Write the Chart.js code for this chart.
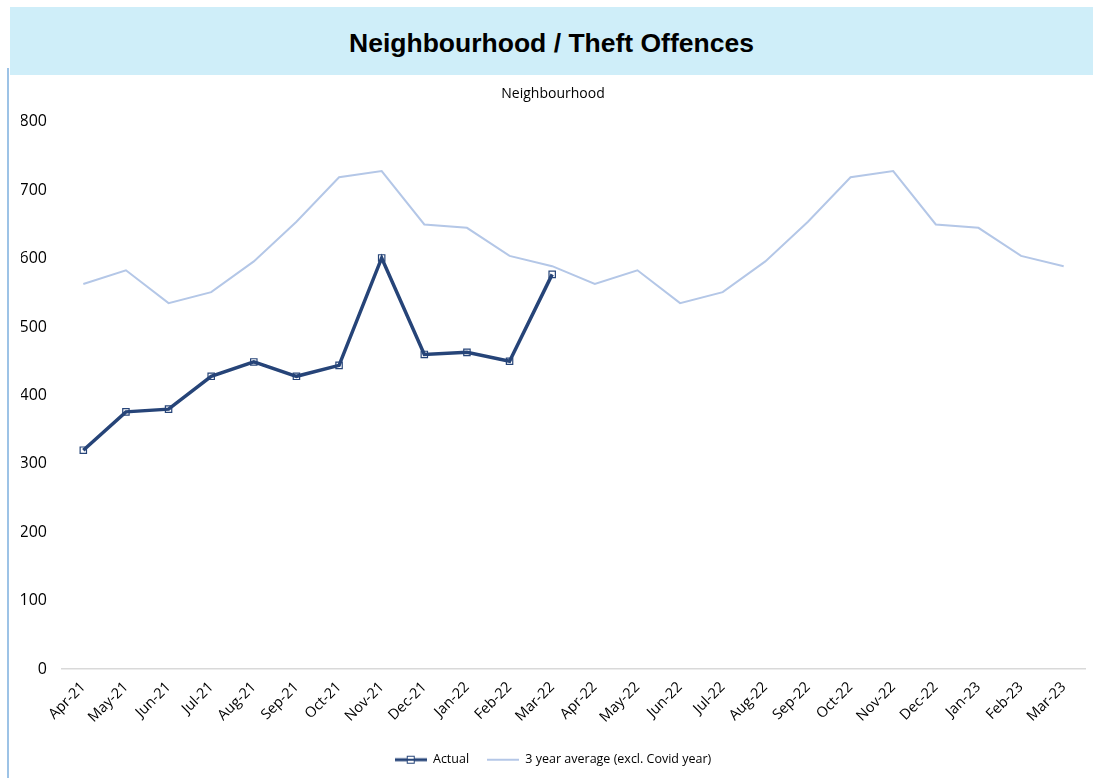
<!DOCTYPE html>
<html>
<head>
<meta charset="utf-8">
<script src="https://cdn.jsdelivr.net/npm/chart.js@4.4.0/dist/chart.umd.min.js"></script>
<style>
    body { margin: 0; background: #fff; width: 1093px; height: 778px; overflow: hidden; position: relative; }
    #band { position: absolute; left: 10px; top: 7px; width: 1083px; height: 68px; background: #cfeef9;
        font: bold 26.5px "Liberation Sans", Arial, sans-serif; color: #000; text-align: center; line-height: 72px; }
    #edge { position: absolute; left: 7px; top: 68px; width: 2px; height: 710px; background: #9dc3e6; }
    #wrap { position: absolute; left: 10px; top: 75px; width: 1083px; height: 703px; }
</style>
</head>
<body>
<div id="band">Neighbourhood / Theft Offences</div>
<div id="edge"></div>
<div id="wrap"><canvas id="myChart" width="1083" height="703"></canvas></div>
<script>
var months = ['Apr-21', 'May-21', 'Jun-21', 'Jul-21', 'Aug-21', 'Sep-21', 'Oct-21', 'Nov-21', 'Dec-21', 'Jan-22', 'Feb-22', 'Mar-22',
    'Apr-22', 'May-22', 'Jun-22', 'Jul-22', 'Aug-22', 'Sep-22', 'Oct-22', 'Nov-22', 'Dec-22', 'Jan-23', 'Feb-23', 'Mar-23'];
var actual = [320, 376, 380, 428, 449, 428, 444, 601, 460, 463, 450, 577];
var average = [563, 583, 535, 551, 596, 654, 719, 728, 650, 645, 604, 589,
    563, 583, 535, 551, 596, 654, 719, 728, 650, 645, 604, 589];
var yTicks = [0, 100, 200, 300, 400, 500, 600, 700, 800];

var navy = '#264478';
var pale = '#b4c7e7';

// little legend pictures: line with optional square marker
function legendIcon(color, width, marker) {
    var c = document.createElement('canvas');
    c.width = 32; c.height = 12;
    var g = c.getContext('2d');
    g.strokeStyle = color;
    g.lineWidth = width;
    g.beginPath(); g.moveTo(0, 6); g.lineTo(32, 6); g.stroke();
    if (marker) {
        g.fillStyle = '#fff';
        g.fillRect(12, 2, 8, 8);
        g.lineWidth = 1;
        g.strokeRect(12.5, 2.5, 7, 7);
        g.beginPath(); g.moveTo(12, 6); g.lineTo(20, 6); g.lineWidth = 2; g.stroke();
    }
    return c;
}
var icons = [legendIcon(navy, 3, true), legendIcon(pale, 2, false)];

var ctx = document.getElementById('myChart').getContext('2d');
var chart = new Chart(ctx, {
    type: 'line',
    data: {
        labels: months,
        datasets: [{
            label: 'Actual',
            data: actual,
            borderColor: navy,
            backgroundColor: 'rgba(255,255,255,0)',
            borderWidth: 3.5,
            pointStyle: 'rect',
            pointRadius: 4.5,
            pointBorderWidth: 1.2,
            pointBorderColor: navy,
            pointBackgroundColor: 'rgba(255,255,255,0)',
            tension: 0
        }, {
            label: '3 year average (excl. Covid year)',
            data: average,
            borderColor: pale,
            borderWidth: 2,
            pointRadius: 0,
            tension: 0
        }]
    },
    options: {
        responsive: false,
        animation: false,
        devicePixelRatio: 1,
        layout: { padding: { left: 11, right: 8, top: 10, bottom: 2 } },
        plugins: {
            title: {
                display: true,
                text: 'Neighbourhood',
                color: '#000',
                font: { family: 'Open Sans', size: 14, weight: 'normal' },
                padding: { top: 1, bottom: 19 }
            },
            legend: {
                position: 'bottom',
                labels: {
                    usePointStyle: true,
                    pointStyleWidth: 32,
                    color: '#404040',
                    font: { family: 'Open Sans', size: 12.5 },
                    padding: 18,
                    generateLabels: function (ch) {
                        return ch.data.datasets.map(function (ds, i) {
                            return { text: ds.label, pointStyle: icons[i], datasetIndex: i, hidden: false, lineWidth: 0, strokeStyle: 'rgba(0,0,0,0)', fillStyle: 'rgba(0,0,0,0)' };
                        });
                    }
                }
            },
            tooltip: { enabled: false }
        },
        scales: {
            x: {
                offset: true,
                afterFit: function (axis) { axis.paddingLeft = 0; axis.paddingRight = 0; },
                grid: { display: false, drawTicks: false },
                border: { display: true, color: '#d9d9d9', width: 1.5 },
                ticks: { color: '#000', font: { family: 'Open Sans', size: 14.5 }, minRotation: 45, maxRotation: 45, padding: 9.5, autoSkip: false }
            },
            y: {
                min: 0,
                max: 800,
                afterBuildTicks: function (axis) { axis.ticks = yTicks.map(function (v) { return { value: v }; }); },
                afterFit: function (axis) { axis.width = 41; },
                grid: { display: false, drawTicks: false },
                border: { display: false },
                ticks: { color: '#000', font: { family: 'Open Sans', size: 16 }, padding: 15 }
            }
        }
    }
});
</script>
</body>
</html>
